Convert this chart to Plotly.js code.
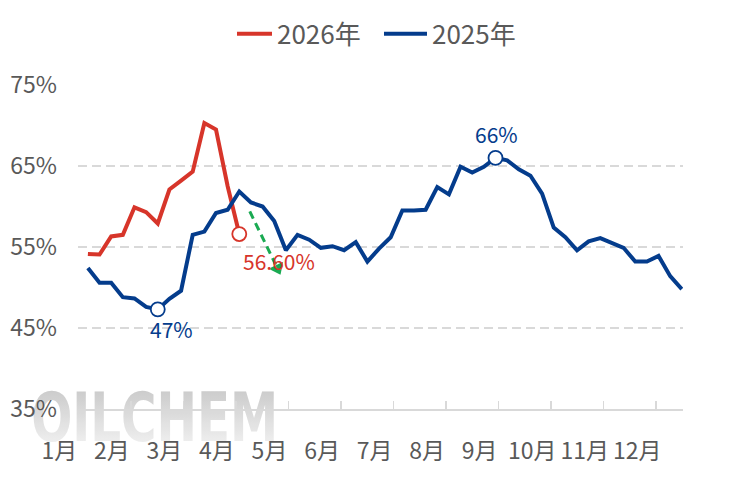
<!DOCTYPE html>
<html><head><meta charset="utf-8">
<script src="https://cdn.plot.ly/plotly-3.0.1.min.js"></script>
<style>html,body{margin:0;padding:0;background:#fff}#chart{width:735px;height:485px}</style>
</head><body><div id="chart"></div>
<script>
// ---- data ----
const months = ['1月','2月','3月','4月','5月','6月','7月','8月','9月','10月','11月','12月'];
const name2026 = '2026年';
const name2025 = '2025年';
const values2026 = [54.15,54.07,56.3,56.5,59.9,59.3,57.9,62.1,63.2,64.3,70.3,69.5,62.5,56.6];
const values2025 = [52.4,50.6,50.6,48.8,48.65,47.6,47.3,48.6,49.6,56.5,56.9,59.2,59.6,61.85,60.5,60.0,58.2,54.6,56.5,55.9,54.9,55.1,54.6,55.6,53.2,54.8,56.2,59.5,59.5,59.6,62.4,61.5,64.9,64.2,64.9,66.0,65.7,64.6,63.8,61.6,57.4,56.2,54.6,55.7,56.1,55.5,54.9,53.2,53.2,53.9,51.4,49.8];
const yTicks = [35,45,55,65,75];
const yTickText = yTicks.map(v => v + '%');
// trend arrow (week index, %)
const arrowWeeks = [13.9, 16.5];
const arrowValues = [59.4, 51.7];
const watermark = 'OILCHEM';

// ---- styling ----
const RED = '#D7352A', BLUE = '#043C8C', GREEN = '#1AAA52', TXT = '#595959', GRID = '#D9D9D9';
const FONT = '"Noto Sans CJK SC", "Noto Sans", sans-serif';
const W = 735, H = 485, M = {l: 78, r: 52, t: 84, b: 76};
const xRange = [-0.85, 51.1], yRange = [35, 75];

const w26 = values2026.map((_, i) => i);
const w25 = values2025.map((_, i) => i);
const weeksPerMonth = 4.511;
const monthTicks = months.map((_, k) => -0.82 + weeksPerMonth * k);

const last26 = values2026.length - 1;
let minI = 0, maxI = 0;
values2025.forEach((v, i) => { if (v < values2025[minI]) minI = i; if (v > values2025[maxI]) maxI = i; });

// arrow geometry in pixels -> head marker placed just behind the tip
const pxX = (W - M.l - M.r) / (xRange[1] - xRange[0]);
const pxY = (H - M.t - M.b) / (yRange[1] - yRange[0]);
const dxp = (arrowWeeks[1] - arrowWeeks[0]) * pxX;
const dyp = (arrowValues[0] - arrowValues[1]) * pxY;
const len = Math.hypot(dxp, dyp), ux = dxp / len, uy = dyp / len;
const headBack = 6;
const headX = arrowWeeks[1] - ux * headBack / pxX;
const headY = arrowValues[1] + uy * headBack / pxY;
const shaftEndX = arrowWeeks[1] - ux * 10 / pxX;
const shaftEndY = arrowValues[1] + uy * 10 / pxY;
const headAngle = -Math.atan2(dxp, dyp) * 180 / Math.PI;

const traces = [
  {x: w26, y: values2026, name: name2026, type: 'scatter', mode: 'lines', line: {color: RED, width: 4}},
  {x: w25, y: values2025, name: name2025, type: 'scatter', mode: 'lines', line: {color: BLUE, width: 4}},
  {x: [last26], y: [values2026[last26]], type: 'scatter', mode: 'markers', showlegend: false,
   marker: {size: 14, color: '#fff', line: {color: RED, width: 1.8}}},
  {x: [minI, maxI], y: [values2025[minI], values2025[maxI]], type: 'scatter', mode: 'markers', showlegend: false,
   marker: {size: 14, color: '#fff', line: {color: BLUE, width: 1.8}}},
  {x: [arrowWeeks[0], shaftEndX], y: [arrowValues[0], shaftEndY], type: 'scatter', mode: 'lines', showlegend: false,
   line: {color: GREEN, width: 3, dash: '8px,5px'}},
  {x: [headX], y: [headY], type: 'scatter', mode: 'markers', showlegend: false,
   marker: {symbol: 'triangle-down', size: 14, angle: headAngle, color: GREEN, line: {width: 0}}}
];

const layout = {
  width: W, height: H,
  margin: M,
  paper_bgcolor: '#fff', plot_bgcolor: '#fff',
  font: {family: FONT, color: TXT},
  showlegend: true,
  legend: {orientation: 'h', x: 0.519, xanchor: 'center', y: 1.154, yanchor: 'middle',
           font: {size: 26, color: TXT}, traceorder: 'normal',
           entrywidth: 110, entrywidthmode: 'pixels'},
  xaxis: {
    range: xRange, showgrid: false, zeroline: false,
    showline: true, linecolor: GRID, linewidth: 2,
    tickmode: 'array', tickvals: monthTicks, ticktext: months,
    ticks: 'inside', ticklen: 8, tickwidth: 1.5, tickcolor: GRID,
    ticklabelshift: -19, ticklabelstandoff: 20,
    tickfont: {size: 23, color: TXT}
  },
  yaxis: {
    range: yRange, tickmode: 'array', tickvals: yTicks, ticktext: yTickText,
    showgrid: true, gridcolor: GRID, gridwidth: 1.5, griddash: '9px,5px',
    zeroline: false, showline: false, ticks: '', ticklabelstandoff: 20,
    tickfont: {size: 23, color: TXT}
  },
  annotations: [
    {xref: 'paper', yref: 'paper', x: 0.126, y: -0.025, text: '<b>' + watermark + '</b>', showarrow: false,
     font: {family: '"DejaVu Sans Condensed", "Liberation Sans Narrow", sans-serif', size: 56, color: '#CFCFCF'},
     opacity: 0.9, xanchor: 'center', yanchor: 'middle'},
    {xref: 'x', yref: 'y', x: last26, y: values2026[last26], text: values2026[last26].toFixed(2) + '%',
     showarrow: false, xshift: 40, yshift: -27, font: {size: 21, color: RED}},
    {xref: 'x', yref: 'y', x: minI, y: values2025[minI], text: Math.round(values2025[minI]) + '%',
     showarrow: false, xshift: 14, yshift: -20, font: {size: 21, color: BLUE}},
    {xref: 'x', yref: 'y', x: maxI, y: values2025[maxI], text: Math.round(values2025[maxI]) + '%',
     showarrow: false, xshift: 1, yshift: 24, font: {size: 21, color: BLUE}}
  ]
};

Plotly.newPlot('chart', traces, layout, {displayModeBar: false, staticPlot: true}).then(gd => {
  const svg = gd.querySelector('svg.main-svg');
  const ns = 'http://www.w3.org/2000/svg';
  // watermark: tall letters fading from grey to white, drawn beneath the axes and lines
  let defs = svg.querySelector('defs');
  if (!defs) { defs = document.createElementNS(ns, 'defs'); svg.insertBefore(defs, svg.firstChild); }
  const grad = document.createElementNS(ns, 'linearGradient');
  grad.setAttribute('id', 'wmGrad');
  grad.setAttribute('x1', '0'); grad.setAttribute('y1', '0');
  grad.setAttribute('x2', '0'); grad.setAttribute('y2', '1');
  [['0', '#BEBEBE'], ['1', '#F7F7F7']].forEach(([o, c]) => {
    const s = document.createElementNS(ns, 'stop');
    s.setAttribute('offset', o); s.setAttribute('stop-color', c); grad.appendChild(s);
  });
  defs.appendChild(grad);
  const ann = gd.querySelector('.annotation');
  const t = ann && ann.querySelector('text');
  if (t) {
    t.style.fill = 'url(#wmGrad)';
    t.style.transformBox = 'fill-box';
    t.style.transformOrigin = 'center';
    t.style.transform = 'scale(0.96,1.2)';
    const below = svg.querySelector('.cartesianlayer');
    if (below) below.parentNode.insertBefore(ann, below);
  }
  // longer legend line samples, like the reference
  gd.querySelectorAll('.legend .legendlines path').forEach(p => p.setAttribute('d', 'M-8,0h43'));
});
</script>
</body></html>
